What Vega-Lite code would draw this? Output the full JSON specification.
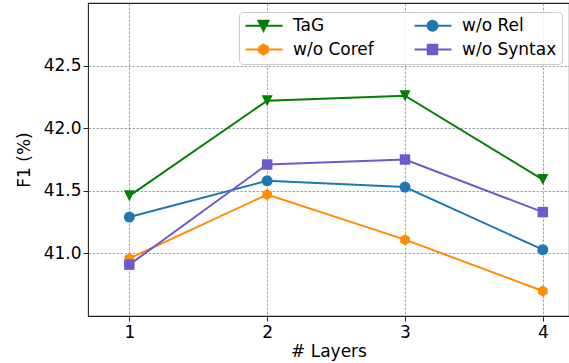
{
  "$schema": "https://vega.github.io/schema/vega-lite/v6.json",
  "width": 481,
  "height": 313,
  "autosize": {"type": "none"},
  "padding": {"left": 88, "top": 3, "right": 0, "bottom": 47},
  "background": "white",
  "config": {
    "font": "DejaVu Sans",
    "view": {"stroke": "#222222", "strokeWidth": 1.1},
    "axis": {
      "labelFont": "DejaVu Sans",
      "titleFont": "DejaVu Sans",
      "labelFontSize": 17,
      "titleFontSize": 17,
      "titleFontWeight": "normal",
      "labelColor": "#000000",
      "titleColor": "#000000",
      "domainColor": "#222222",
      "tickColor": "#222222",
      "tickSize": 5,
      "gridColor": "#5a6b7c",
      "gridOpacity": 0.6,
      "gridDash": [2.5, 1.5],
      "gridWidth": 1
    },
    "legend": {
      "title": null,
      "orient": "none",
      "legendX": 151,
      "legendY": 9,
      "columns": 2,
      "columnPadding": 36,
      "rowPadding": 5,
      "padding": 5,
      "fillColor": "rgba(255,255,255,0.8)",
      "strokeColor": "#cccccc",
      "cornerRadius": 4,
      "labelFont": "DejaVu Sans",
      "labelFontSize": 17,
      "labelColor": "#000000",
      "labelOffset": 32,
      "symbolSize": 100,
      "symbolStrokeWidth": 2
    }
  },
  "data": {
    "values": [
      {"layers": 1, "f1": 41.46, "series": "TaG"},
      {"layers": 2, "f1": 42.22, "series": "TaG"},
      {"layers": 3, "f1": 42.26, "series": "TaG"},
      {"layers": 4, "f1": 41.59, "series": "TaG"},
      {"layers": 1, "f1": 40.96, "series": "w/o Coref"},
      {"layers": 2, "f1": 41.47, "series": "w/o Coref"},
      {"layers": 3, "f1": 41.11, "series": "w/o Coref"},
      {"layers": 4, "f1": 40.70, "series": "w/o Coref"},
      {"layers": 1, "f1": 41.29, "series": "w/o Rel"},
      {"layers": 2, "f1": 41.58, "series": "w/o Rel"},
      {"layers": 3, "f1": 41.53, "series": "w/o Rel"},
      {"layers": 4, "f1": 41.03, "series": "w/o Rel"},
      {"layers": 1, "f1": 40.91, "series": "w/o Syntax"},
      {"layers": 2, "f1": 41.71, "series": "w/o Syntax"},
      {"layers": 3, "f1": 41.75, "series": "w/o Syntax"},
      {"layers": 4, "f1": 41.33, "series": "w/o Syntax"}
    ]
  },
  "encoding": {
    "x": {
      "field": "layers",
      "type": "quantitative",
      "scale": {"domain": [0.7, 4.19], "nice": false, "zero": false},
      "axis": {"values": [1, 2, 3, 4], "format": "d", "title": "# Layers", "labelPadding": 3, "titlePadding": 3, "grid": true, "domain": false}
    },
    "y": {
      "field": "f1",
      "type": "quantitative",
      "scale": {"domain": [40.5, 43.0], "nice": false, "zero": false},
      "axis": {"values": [41, 41.5, 42, 42.5], "format": ".1f", "title": "F1 (%)", "labelPadding": 2, "titlePadding": 10, "grid": true, "domain": false}
    },
    "color": {
      "field": "series",
      "type": "nominal",
      "sort": ["TaG", "w/o Coref", "w/o Rel", "w/o Syntax"],
      "scale": {"domain": ["TaG", "w/o Coref", "w/o Rel", "w/o Syntax"], "range": ["#008000", "#ff8c00", "#1f77b4", "#6a5acd"]},
      "legend": {
        "encode": {
          "symbols": {
            "update": {
              "shape": {"signal": "datum.value === 'TaG' ? 'M-1.4,0H6M1.2,-1H3.2L2.2,1Z' : datum.value === 'w/o Rel' ? 'M-1.4,0H6M1.2,0A1,1 0 1,0 3.2,0A1,1 0 1,0 1.2,0Z' : datum.value === 'w/o Coref' ? 'M-1.4,0H6M2.2,-1L3.066,-0.5L3.066,0.5L2.2,1L1.334,0.5L1.334,-0.5Z' : 'M-1.4,0H6M1.25,-0.95H3.15V0.95H1.25Z'"},
              "strokeWidth": {"value": 2},
              "size": {"value": 100},
              "opacity": {"value": 1}
            }
          }
        }
      }
    }
  },
  "layer": [
    {"mark": {"type": "line", "strokeWidth": 2}},
    {
      "transform": [{"filter": "datum.series === 'TaG'"}],
      "mark": {"type": "point", "filled": true, "size": 121, "opacity": 1, "shape": "M-1,-1H1L0,1Z"}
    },
    {
      "transform": [{"filter": "datum.series === 'w/o Coref'"}],
      "mark": {"type": "point", "filled": true, "size": 121, "opacity": 1, "shape": "M0,-1L0.866,-0.5L0.866,0.5L0,1L-0.866,0.5L-0.866,-0.5Z"}
    },
    {
      "transform": [{"filter": "datum.series === 'w/o Rel'"}],
      "mark": {"type": "point", "filled": true, "size": 121, "opacity": 1, "shape": "circle"}
    },
    {
      "transform": [{"filter": "datum.series === 'w/o Syntax'"}],
      "mark": {"type": "point", "filled": true, "size": 121, "opacity": 1, "shape": "M-0.95,-0.95H0.95V0.95H-0.95Z"}
    }
  ]
}
